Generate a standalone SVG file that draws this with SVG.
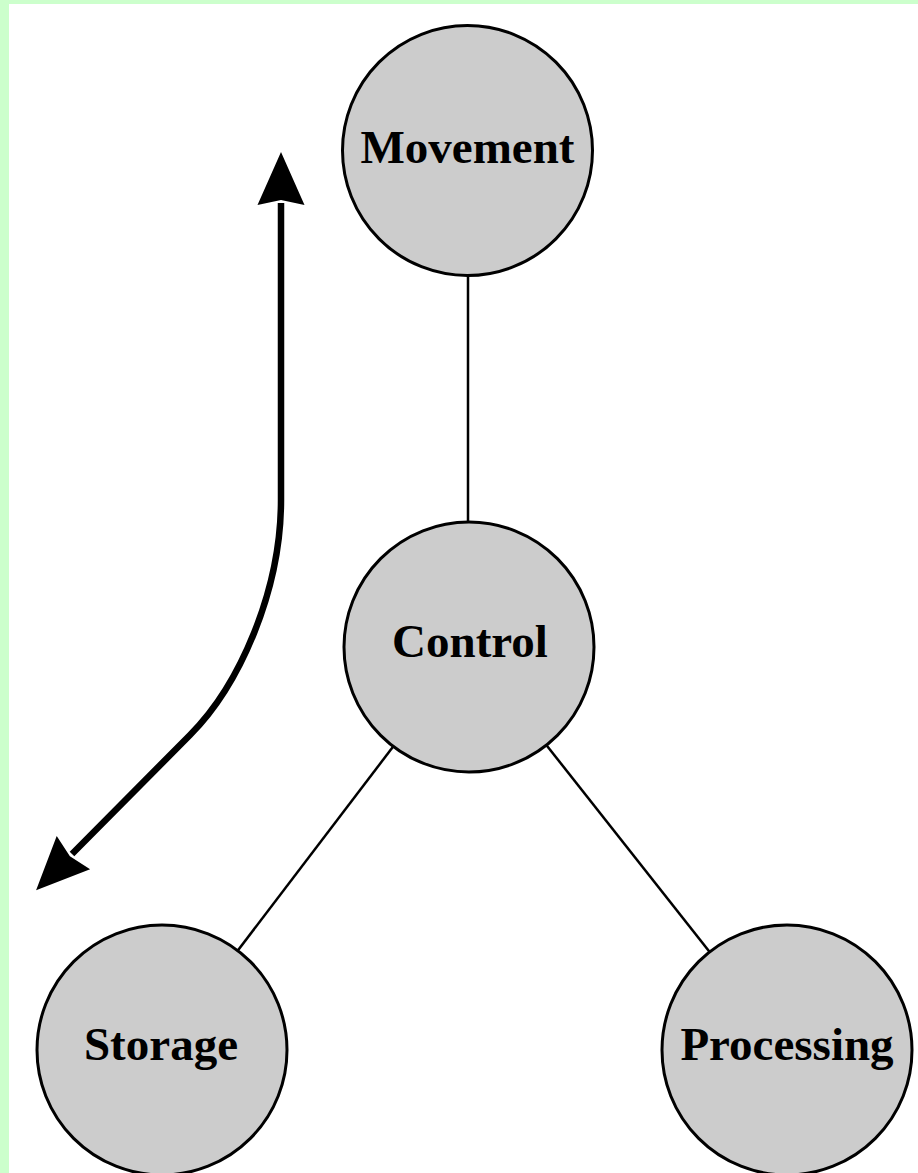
<svg xmlns="http://www.w3.org/2000/svg" width="918" height="1173" viewBox="0 0 918 1173">
<style>
.node circle{fill:#cccccc;stroke:#000;stroke-width:3}
.node text{font-family:"Liberation Serif","Times New Roman",serif;font-weight:bold;font-size:47px;fill:#000;text-anchor:middle}
.edge{stroke:#000;stroke-width:2.5;fill:none}
.flow{stroke:#000;stroke-width:6.5;fill:none}
</style>
<defs>
<marker id="head" markerUnits="userSpaceOnUse" markerWidth="60" markerHeight="60" viewBox="-2 -26 60 52" refX="2" refY="0" orient="auto-start-reverse">
<path d="M0,-23.5 L53,0 L0,23.5 L5,0 Z" fill="#000"/>
</marker>
</defs>
<rect x="0" y="0" width="918" height="1173" fill="#ccffcc"/>
<rect x="9" y="4" width="909" height="1169" fill="#ffffff"/>
<g id="connectors">
<line class="edge" x1="468" y1="150" x2="468" y2="647"/>
<line class="edge" x1="469" y1="647" x2="162" y2="1050"/>
<line class="edge" x1="469" y1="647" x2="787" y2="1050"/>
<path class="flow" d="M281,203 V500 C281,590 240,685 190,735 L72,854" marker-start="url(#head)" marker-end="url(#head)"/>
</g>
<g id="movement" class="node"><circle cx="467.5" cy="150.5" r="125"/><text x="467.5" y="163">Movement</text></g>
<g id="control" class="node"><circle cx="469" cy="647" r="125"/><text x="470" y="657">Control</text></g>
<g id="storage" class="node"><circle cx="162" cy="1050" r="125"/><text x="161" y="1060">Storage</text></g>
<g id="processing" class="node"><circle cx="787" cy="1050" r="125"/><text x="787" y="1060">Processing</text></g>
</svg>
